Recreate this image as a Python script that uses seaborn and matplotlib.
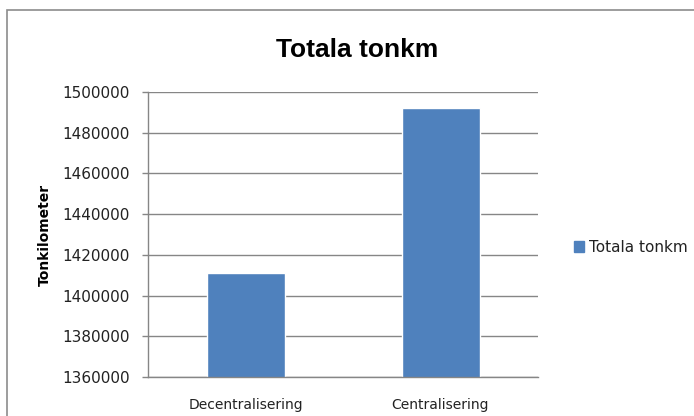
import matplotlib
matplotlib.use("Agg")
import matplotlib.pyplot as plt
import matplotlib.patches as mpatches
import seaborn as sns
import pandas as pd

categories = ["Decentralisering", "Centralisering"]
values = [1411000, 1492000]
series_name = "Totala tonkm"
y_ticks = [1360000, 1380000, 1400000, 1420000, 1440000, 1460000, 1480000, 1500000]

sns.set_theme(style="white")
plt.rcParams["font.family"] = ["DejaVu Sans"]

bar_color = "#4F81BD"
grid_color = "#868686"

df = pd.DataFrame({"Scenario": categories, "Tonkm": values})

fig = plt.figure(figsize=(6.94, 4.16), dpi=100)
ax = fig.add_axes([148 / 694, 1 - 377 / 416, 390 / 694, 285 / 416])

sns.barplot(data=df, x="Scenario", y="Tonkm", color=bar_color, width=0.4,
            saturation=1, ax=ax)

ax.set_ylim(y_ticks[0], y_ticks[-1])
ax.set_yticks(y_ticks)
ax.set_yticklabels([str(v) for v in y_ticks])
ax.yaxis.grid(True, color=grid_color, linewidth=1)
ax.set_axisbelow(True)

for side in ["top", "right"]:
    ax.spines[side].set_visible(False)
for side in ["left", "bottom"]:
    ax.spines[side].set_color(grid_color)
    ax.spines[side].set_linewidth(1)

ax.tick_params(axis="y", which="major", left=True, length=4, width=1,
               color=grid_color, pad=9, labelsize=11, labelcolor="#222222")
ax.tick_params(axis="x", bottom=False, pad=9, labelsize=10, labelcolor="#222222")

ax.set_xlabel("")
ax.set_ylabel("Tonkilometer", fontsize=10, fontweight="bold", color="black")
ax.yaxis.set_label_coords((52 - 148) / 390, 0.5)

fig.text(357 / 694, 1 - 50 / 416, "Totala tonkm", ha="center", va="center",
         fontsize=19, fontweight="bold", color="black",
         family=["Liberation Sans", "DejaVu Sans"])

handle = mpatches.Patch(color=bar_color)
fig.legend([handle], [series_name], loc="center left",
           bbox_to_anchor=(560 / 694, 1 - 247 / 416), frameon=False,
           handlelength=0.7, handleheight=0.7, handletextpad=0.3,
           fontsize=11, labelcolor="#222222")

border = mpatches.Rectangle((7 / 694, -0.2), 1.2, 0.2 + (1 - 10 / 416),
                            transform=fig.transFigure, fill=False,
                            edgecolor="#8c8c8c", linewidth=1.2)
fig.add_artist(border)

fig.savefig("out.png", dpi=100)
